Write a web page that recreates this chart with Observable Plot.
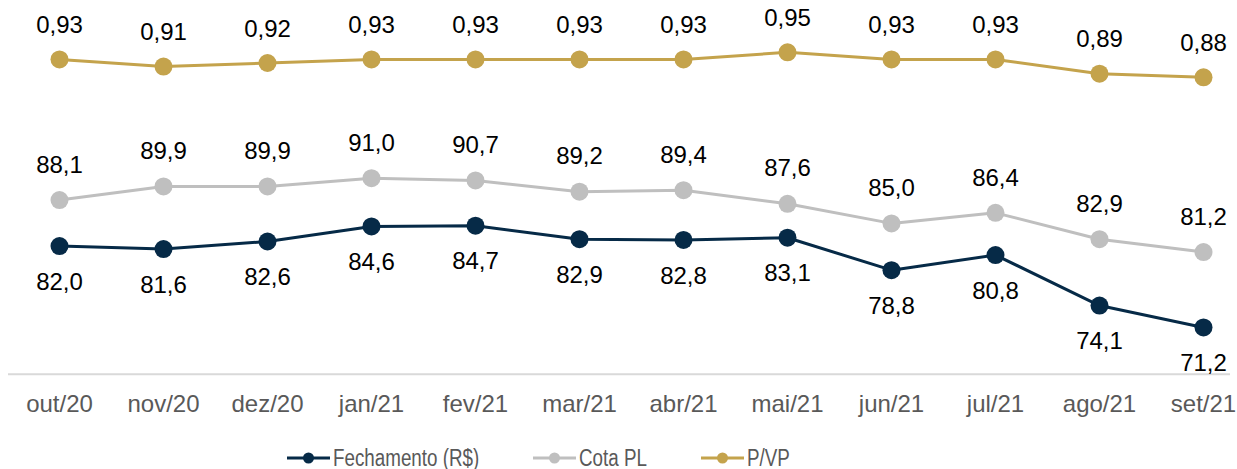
<!DOCTYPE html>
<html>
<head>
<meta charset="utf-8">
<script src="https://cdn.jsdelivr.net/npm/d3@7"></script>
<script src="https://cdn.jsdelivr.net/npm/@observablehq/plot@0.6"></script>
<style>
  html, body { margin: 0; padding: 0; background: #fff; overflow: hidden; }
  #chart { width: 1237px; height: 433px; }
  #chart svg { display: block; }
  #legend { position: relative; width: 1237px; height: 36px; margin-top: 7px; font-family: "Liberation Sans", Arial, sans-serif; font-size: 23.5px; color: #595959; }
  .item { position: absolute; top: 0; height: 36px; display: flex; align-items: center; }
  .item svg { display: block; }
  .item span { display: inline-block; margin-left: 3px; white-space: nowrap; transform: scaleX(0.8); transform-origin: 0 50%; }
</style>
</head>
<body>
<div id="chart"></div>
<div id="legend"></div>
<script>
const months = ["out/20","nov/20","dez/20","jan/21","fev/21","mar/21","abr/21","mai/21","jun/21","jul/21","ago/21","set/21"];
const fechamento = [82.0, 81.6, 82.6, 84.6, 84.7, 82.9, 82.8, 83.1, 78.8, 80.8, 74.1, 71.2];
const cotaPL = [88.1, 89.9, 89.9, 91.0, 90.7, 89.2, 89.4, 87.6, 85.0, 86.4, 82.9, 81.2];
const pvp = [0.93, 0.91, 0.92, 0.93, 0.93, 0.93, 0.93, 0.95, 0.93, 0.93, 0.89, 0.88];
const seriesNames = ["Fechamento (R$)", "Cota PL", "P/VP"];
const seriesColors = ["#062a47", "#bfbfbf", "#c4a34c"];

// secondary axis (P/VP) mapped onto the primary value axis
const secondary = d3.scaleLinear().domain([0.80, 1.00]).range([100.59, 110.06]);

const rows = months.map((m, i) => ({
  month: m,
  fech: fechamento[i],
  cota: cotaPL[i],
  pvp: pvp[i],
  pvpY: secondary(pvp[i])
}));

const fmt1 = v => v.toFixed(1).replace(".", ",");
const fmt2 = v => v.toFixed(2).replace(".", ",");

const chart = Plot.plot({
  width: 1237,
  height: 433,
  marginLeft: 8,
  marginRight: 7,
  marginTop: 0,
  marginBottom: 60,
  style: { fontFamily: "'Liberation Sans', Arial, sans-serif", fontSize: "24px", color: "#595959", background: "#fff" },
  x: { type: "point", domain: months, range: [59, 1203], padding: 0, axis: null, label: null },
  y: { domain: [65, 115], range: [373.7, -3.3], axis: null },
  marks: [
    Plot.ruleY([65], { stroke: "#d9d9d9", strokeWidth: 2 }),
    Plot.axisX({ tickSize: 0, tickPadding: 21, fontSize: 24, fill: "#595959", label: null }),
    // Cota PL
    Plot.line(rows, { x: "month", y: "cota", stroke: seriesColors[1], strokeWidth: 3 }),
    Plot.dot(rows, { x: "month", y: "cota", r: 9, fill: seriesColors[1] }),
    Plot.text(rows, { x: "month", y: "cota", text: d => fmt1(d.cota), dy: -35, fill: "#000", fontSize: 24 }),
    // Fechamento
    Plot.line(rows, { x: "month", y: "fech", stroke: seriesColors[0], strokeWidth: 3 }),
    Plot.dot(rows, { x: "month", y: "fech", r: 9, fill: seriesColors[0] }),
    Plot.text(rows, { x: "month", y: "fech", text: d => fmt1(d.fech), dy: 36, fill: "#000", fontSize: 24 }),
    // P/VP
    Plot.line(rows, { x: "month", y: "pvpY", stroke: seriesColors[2], strokeWidth: 3 }),
    Plot.dot(rows, { x: "month", y: "pvpY", r: 9, fill: seriesColors[2] }),
    Plot.text(rows, { x: "month", y: "pvpY", text: d => fmt2(d.pvp), dy: -34, fill: "#000", fontSize: 24 })
  ]
});
document.getElementById("chart").appendChild(chart);

// legend below the chart
const legend = document.getElementById("legend");
const legendX = [287, 533, 701];
seriesNames.forEach((name, i) => {
  const item = document.createElement("div");
  item.className = "item";
  item.style.left = legendX[i] + "px";
  item.innerHTML =
    `<svg width="43" height="14"><line x1="0" x2="43" y1="7" y2="7" stroke="${seriesColors[i]}" stroke-width="3"/>` +
    `<circle cx="21.5" cy="7" r="5.5" fill="${seriesColors[i]}"/></svg><span>${name}</span>`;
  legend.appendChild(item);
});
</script>
</body>
</html>
